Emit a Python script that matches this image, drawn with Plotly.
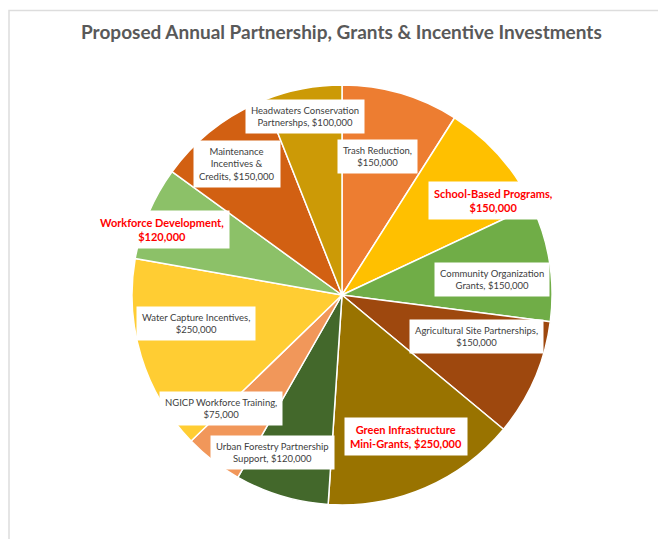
import math
import plotly.graph_objects as go

# ---- data ----
categories = [
    "Trash Reduction",
    "School-Based Programs",
    "Community Organization|Grants",
    "Agricultural Site Partnerships",
    "Green Infrastructure|Mini-Grants",
    "Urban Forestry Partnership|Support",
    "NGICP Workforce Training",
    "Water Capture Incentives",
    "Workforce Development",
    "Maintenance|Incentives &|Credits",
    "Headwaters Conservation|Partnershps",
]
values = [150000, 150000, 150000, 150000, 250000, 120000, 75000, 250000, 120000, 150000, 100000]
highlight = [False, True, False, False, True, False, False, False, True, False, False]

# ---- style ----
colors = ["#ED7D31", "#FFC000", "#70AD47", "#9E480E", "#997300", "#43682B",
          "#F1975A", "#FFCD33", "#8CC168", "#D26012", "#CC9A06"]
value_break = [True, True, False, True, False, False, True, True, True, False, False]
label_nudge_deg = [-2, 9.4, 3, -6.5, -1, 7, 9, 6, -3, -1, -1]
label_rfrac = [0.68, 0.85, 0.72, 0.67, 0.74, 0.82, 0.79, 0.71, 0.91, 0.80, 0.87]

# page has an 8px body margin, so the figure is drawn 8px smaller and offset
OFF = 8
W, H = 666 - OFF, 539 - OFF
CX, CY, R = 342 - OFF, 295 - OFF, 210  # pie center / radius in px

fig = go.Figure(go.Pie(
    labels=[c.replace("|", " ") for c in categories],
    values=values,
    sort=False,
    direction="clockwise",
    rotation=0,
    textinfo="none",
    hoverinfo="label+value",
    marker=dict(colors=colors, line=dict(color="white", width=1.5)),
    domain=dict(x=[(CX - R) / W, (CX + R) / W], y=[(H - CY - R) / H, (H - CY + R) / H]),
    showlegend=False,
))

total = sum(values)
cum = 0
annotations = []
for i, (cat, v) in enumerate(zip(categories, values)):
    mid = (cum + v / 2) / total * 360
    cum += v
    ang = math.radians(mid + label_nudge_deg[i])
    r = label_rfrac[i] * R
    px = CX + r * math.sin(ang)
    py = CY - r * math.cos(ang)
    name = cat.replace("|", "<br>")
    sep = ",<br>" if value_break[i] else ", "
    txt = f"{name}{sep}${v:,}"
    if highlight[i]:
        font = dict(family="Lato", size=11, color="#FF0000", weight="bold")
    else:
        font = dict(family="Lato", size=9.5, color="#404040")
    annotations.append(dict(
        x=px / W, y=(H - py) / H, xref="paper", yref="paper",
        text=txt, showarrow=False, xanchor="center", yanchor="middle",
        bgcolor="white", borderpad=5, font=font, align="center",
    ))

annotations.append(dict(
    x=(341.5 - OFF) / W, y=(H - (31 - OFF)) / H, xref="paper", yref="paper",
    text="Proposed Annual Partnership, Grants & Incentive Investments",
    showarrow=False, xanchor="center", yanchor="middle",
    font=dict(family="Lato", size=19, color="#595959", weight="bold"),
))

fig.update_layout(
    width=W, height=H,
    margin=dict(l=0, r=0, t=0, b=0),
    paper_bgcolor="white",
    plot_bgcolor="white",
    annotations=annotations,
    shapes=[dict(type="rect", xref="paper", yref="paper",
                 x0=1 / W, x1=1.05, y0=-0.05, y1=(H - 2.5) / H,
                 line=dict(color="#DDDDDD", width=1.5), layer="below")],
)

fig.write_html("out.html")
